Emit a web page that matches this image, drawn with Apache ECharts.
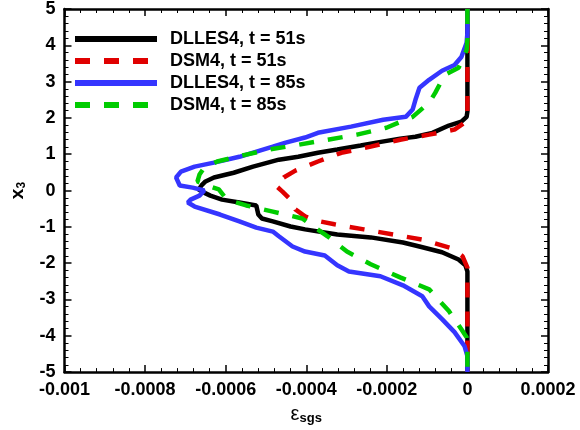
<!DOCTYPE html>
<html>
<head>
<meta charset="utf-8">
<script src="https://cdn.jsdelivr.net/npm/echarts@6/dist/echarts.min.js"></script>
<style>
  html, body { margin: 0; padding: 0; background: #fff; }
  #chart { width: 580px; height: 430px; }
</style>
</head>
<body>
<div id="chart"></div>
<script>
// Profiles of SGS dissipation versus x3 for two models at two times.
const seriesNames = ['DLLES4, t = 51s', 'DSM4, t = 51s', 'DLLES4, t = 85s', 'DSM4, t = 85s'];
const seriesColors = ['#000000', '#e00000', '#3535ff', '#00cc00'];

// DLLES4, t = 51s
const dlles51X3 = [5, 2.17, 2.03, 1.90, 1.79, 1.59, 1.48, 1.43, 1.32, 1.24, 1.13, 1.04, 0.93, 0.85, 0.66, 0.49, 0.36, 0.25, 0.14, 0.03, -0.05, -0.14, -0.25, -0.33, -0.41, -0.66, -0.77, -0.85, -0.99, -1.07, -1.21, -1.29, -1.43, -1.54, -1.70, -1.90, -2.06, -2.23, -5];
const dlles51Eps = [0, 0, -0.02e-4, -0.15e-4, -0.46e-4, -0.87e-4, -1.29e-4, -1.67e-4, -2.26e-4, -2.65e-4, -3.23e-4, -3.71e-4, -4.20e-4, -4.68e-4, -5.32e-4, -5.80e-4, -6.29e-4, -6.50e-4, -6.60e-4, -6.67e-4, -6.55e-4, -6.38e-4, -6.09e-4, -5.66e-4, -5.24e-4, -5.19e-4, -5.10e-4, -4.83e-4, -4.39e-4, -4.03e-4, -3.23e-4, -2.40e-4, -1.60e-4, -1.19e-4, -0.63e-4, -0.22e-4, -0.05e-4, 0, 0];

// DSM4, t = 51s
const dsm51X3 = [5, 2.03, 1.87, 1.68, 1.54, 1.40, 1.21, 1.04, 0.80, 0.55, 0.36, 0.14, -0.03, -0.30, -0.52, -0.71, -0.82, -0.93, -1.07, -1.21, -1.35, -1.59, -1.81, -2.12, -5];
const dsm51Eps = [0, 0, -0.07e-4, -0.32e-4, -0.95e-4, -1.67e-4, -2.40e-4, -3.13e-4, -3.71e-4, -4.27e-4, -4.56e-4, -4.76e-4, -4.59e-4, -4.34e-4, -4.27e-4, -4.03e-4, -3.79e-4, -3.30e-4, -2.57e-4, -1.84e-4, -1.12e-4, -0.39e-4, -0.12e-4, 0, 0];

// DLLES4, t = 85s
const dlles85X3 = [5, 4.34, 4.07, 3.68, 3.46, 3.30, 3.05, 2.83, 2.50, 2.23, 2.03, 1.95, 1.76, 1.59, 1.46, 1.32, 1.21, 0.93, 0.77, 0.66, 0.52, 0.36, 0.14, 0.08, 0.00, -0.14, -0.25, -0.33, -0.44, -0.66, -0.85, -1.02, -1.13, -1.26, -1.54, -1.68, -1.79, -2.06, -2.23, -2.36, -2.61, -2.91, -3.19, -3.54, -3.90, -4.29, -4.56, -5];
const dlles85Eps = [0, 0, -0.02e-4, -0.15e-4, -0.32e-4, -0.63e-4, -0.95e-4, -1.19e-4, -1.29e-4, -1.36e-4, -1.53e-4, -2.09e-4, -2.89e-4, -3.71e-4, -4.03e-4, -4.51e-4, -4.83e-4, -5.66e-4, -6.29e-4, -6.77e-4, -7.11e-4, -7.23e-4, -7.14e-4, -6.82e-4, -6.53e-4, -6.65e-4, -6.87e-4, -6.94e-4, -6.77e-4, -6.14e-4, -5.66e-4, -5.24e-4, -4.83e-4, -4.68e-4, -4.34e-4, -4.03e-4, -3.54e-4, -3.23e-4, -2.94e-4, -2.16e-4, -1.60e-4, -1.12e-4, -0.95e-4, -0.63e-4, -0.32e-4, -0.07e-4, 0, 0];

// DSM4, t = 85s
const dsm85X3 = [5, 4.15, 3.87, 3.38, 3.19, 2.69, 2.42, 2.03, 1.73, 1.54, 1.40, 1.26, 1.13, 0.99, 0.80, 0.63, 0.44, 0.25, 0.14, 0.03, -0.25, -0.41, -0.58, -0.77, -1.26, -1.68, -2.03, -2.39, -2.72, -3.32, -3.82, -4.04, -4.23, -5];
const dsm85Eps = [0, 0, -0.02e-4, -0.22e-4, -0.56e-4, -0.80e-4, -0.95e-4, -1.36e-4, -2.01e-4, -2.74e-4, -3.47e-4, -4.20e-4, -4.93e-4, -5.49e-4, -6.21e-4, -6.53e-4, -6.65e-4, -6.70e-4, -6.46e-4, -6.17e-4, -5.97e-4, -5.49e-4, -4.83e-4, -4.10e-4, -3.47e-4, -2.99e-4, -2.40e-4, -1.67e-4, -0.95e-4, -0.46e-4, -0.15e-4, -0.02e-4, 0, 0];

// Axis ranges and tick labels
const xTicks = ['-0.001', '-0.0008', '-0.0006', '-0.0004', '-0.0002', '0', '0.0002'];
const yTicks = ['-5', '-4', '-3', '-2', '-1', '0', '1', '2', '3', '4', '5'];
const xMin = -0.001, xMax = 0.0002, xStep = 0.0002;
const yMin = -5, yMax = 5, yStep = 1;

const profiles = [
  [dlles51Eps, dlles51X3, 'solid'],
  [dsm51Eps, dsm51X3, [15, 14]],
  [dlles85Eps, dlles85X3, 'solid'],
  [dsm85Eps, dsm85X3, [15, 14]]
];

const FONT = 'Liberation Sans, Arial, sans-serif';
const labelStyle = { fontFamily: FONT, fontWeight: 'bold', fontSize: 18, color: '#000' };

function xTickLabel(v) {
  const i = Math.round((v - xMin) / xStep);
  return xTicks[i] !== undefined ? xTicks[i] : '';
}
function yTickLabel(v) {
  const i = Math.round((v - yMin) / yStep);
  return yTicks[i] !== undefined ? yTicks[i] : '';
}

function frameAxis(extra) {
  return Object.assign({
    type: 'value',
    axisLine: { show: true, onZero: false, lineStyle: { color: '#000', width: 2.5 } },
    axisTick: { show: true, inside: true, length: 7, lineStyle: { color: '#000', width: 1.5 } },
    minorTick: { show: true, splitNumber: 5, length: 4, lineStyle: { color: '#000', width: 1 } },
    splitLine: { show: false },
    minorSplitLine: { show: false }
  }, extra);
}

const chart = echarts.init(document.getElementById('chart'), null, { renderer: 'canvas' });

chart.setOption({
  backgroundColor: '#fff',
  animation: false,
  grid: { left: 54, right: 32, top: 9, bottom: 57 },
  legend: {
    orient: 'vertical',
    left: 67,
    top: 25,
    itemWidth: 82,
    itemHeight: 14,
    itemGap: 4,
    data: seriesNames,
    lineStyle: { width: 6 },
    itemStyle: { opacity: 0 },
    textStyle: Object.assign({}, labelStyle, { padding: [0, 0, 0, 8] })
  },
  xAxis: [
    frameAxis({
      position: 'bottom', min: xMin, max: xMax, interval: xStep,
      axisLabel: Object.assign({ margin: 9, formatter: xTickLabel }, labelStyle),
      name: '{e|ε}{s|sgs}',
      nameLocation: 'middle',
      nameGap: 24,
      nameTextStyle: {
        rich: {
          e: { fontFamily: FONT, fontSize: 20, color: '#000' },
          s: { fontFamily: FONT, fontSize: 13, fontWeight: 'bold', color: '#000', padding: [9, 0, 0, 0] }
        }
      }
    }),
    frameAxis({ position: 'top', min: xMin, max: xMax, interval: xStep, axisLabel: { show: false } })
  ],
  yAxis: [
    frameAxis({
      position: 'left', min: yMin, max: yMax, interval: yStep,
      axisLabel: Object.assign({ margin: 9, formatter: yTickLabel }, labelStyle),
      name: '{x|x}{s|3}',
      nameLocation: 'middle',
      nameRotate: 90,
      nameGap: 37,
      nameTextStyle: {
        rich: {
          x: { fontFamily: FONT, fontSize: 19, fontWeight: 'bold', color: '#000' },
          s: { fontFamily: FONT, fontSize: 12, fontWeight: 'bold', color: '#000', padding: [8, 0, 0, 0] }
        }
      }
    }),
    frameAxis({ position: 'right', min: yMin, max: yMax, interval: yStep, axisLabel: { show: false } })
  ],
  series: profiles.map((p, k) => ({
    name: seriesNames[k],
    type: 'line',
    xAxisIndex: 0,
    yAxisIndex: 0,
    symbol: 'none',
    smooth: false,
    data: p[0].map((x, i) => [x, p[1][i]]),
    lineStyle: { color: seriesColors[k], width: 4.5, type: p[2] },
    itemStyle: { color: seriesColors[k] },
    z: 2 + k
  }))
});
</script>
</body>
</html>
